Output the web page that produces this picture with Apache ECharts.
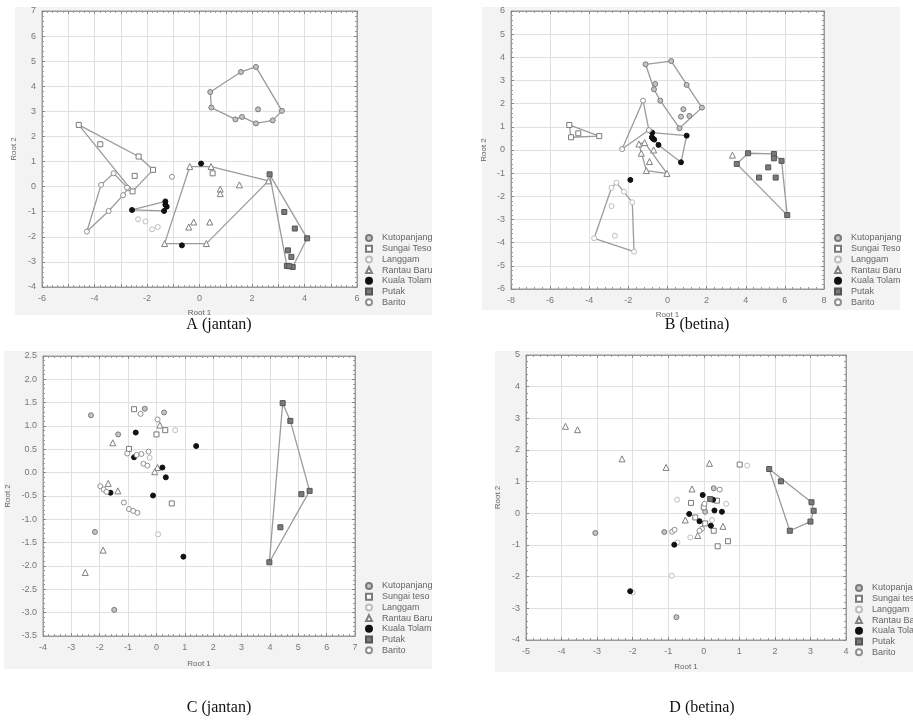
<!DOCTYPE html>
<html><head><meta charset="utf-8">
<script src="https://cdn.jsdelivr.net/npm/echarts@6/dist/echarts.min.js"></script>
<style>html,body{margin:0;padding:0;background:#fff}#c{width:913px;height:722px}</style>
</head><body><div id="c"></div>
<script>
// ---------- legend names ----------
const namesAB = ['Kutopanjang','Sungai Teso','Langgam','Rantau Baru','Kuala Tolam','Putak','Barito'];
const namesCD = ['Kutopanjang','Sungai teso','Langgam','Rantau Baru','Kuala Tolam','Putak','Barito'];
const captions = ['A (jantan)','B (betina)','C (jantan)','D (betina)'];

// ---------- Panel A (jantan) ----------
const A_kuto_hull = [[0.41,3.77],[1.58,4.57],[2.15,4.77],[3.14,3.02],[2.79,2.64],[2.15,2.52],[1.62,2.78],[1.37,2.68],[0.45,3.15]];
const A_kuto_pts = [[2.23,3.08]];
const A_teso_hull = [[-4.60,2.46],[-2.32,1.20],[-1.77,0.67],[-2.55,-0.19]];
const A_teso_pts = [[-3.78,1.69],[-2.47,0.43],[0.50,0.53]];
const A_lang_pts = [[-2.34,-1.30],[-2.06,-1.39],[-1.81,-1.70],[-1.59,-1.61]];
const A_rant_hull = [[-0.37,0.80],[0.44,0.80],[2.63,0.23],[0.26,-2.27],[-1.33,-2.27]];
const A_rant_pts = [[0.79,-0.10],[0.79,-0.28],[1.52,0.07],[-0.22,-1.41],[-0.41,-1.61],[0.39,-1.41]];
const A_kual_hull = [[-2.57,-0.93],[-1.30,-0.59],[-1.25,-0.80],[-1.35,-0.97]];
const A_kual_pts = [[0.06,0.92],[-0.67,-2.34],[-1.30,-0.72]];
const A_puta_hull = [[2.67,0.49],[4.10,-2.06],[3.55,-3.20],[3.33,-3.16]];
const A_puta_pts = [[3.23,-1.01],[3.63,-1.67],[3.37,-2.54],[3.50,-2.80],[3.42,-3.17]];
const A_bari_hull = [[-4.29,-1.79],[-3.75,0.07],[-3.27,0.53],[-2.72,-0.07],[-2.91,-0.34],[-3.46,-0.97]];
const A_bari_pts = [[-1.05,0.39],[-2.76,-0.04]];

// ---------- Panel B (betina) ----------
const B_kuto_hull = [[-1.12,3.70],[0.19,3.84],[1.76,1.83],[0.61,0.94],[-0.37,2.13],[-0.69,2.62]];
const B_kuto_pts = [[0.98,2.81],[0.81,1.76],[0.69,1.44],[1.12,1.47],[-0.63,2.85]];
const B_teso_hull = [[-5.02,1.08],[-3.49,0.60],[-4.93,0.55]];
const B_teso_pts = [[-4.56,0.72]];
const B_lang_hull = [[-2.61,-1.41],[-1.80,-2.26],[-1.71,-4.39],[-3.75,-3.81],[-2.86,-1.63]];
const B_lang_pts = [[-2.22,-1.80],[-2.86,-2.42],[-2.69,-3.70]];
const B_rant_hull = [[-1.46,0.26],[-1.17,0.32],[-0.03,-1.01],[-1.08,-0.89]];
const B_rant_pts = [[-0.92,-0.50],[-0.71,0.0],[-1.34,-0.14],[3.32,-0.22]];
const B_kual_hull = [[-0.78,0.75],[0.98,0.62],[0.69,-0.53],[-0.46,0.22],[-0.80,0.55]];
const B_kual_pts = [[-0.75,0.50],[-0.68,0.45],[-1.90,-1.29]];
const B_puta_hull = [[3.54,-0.60],[4.12,-0.14],[5.44,-0.17],[5.83,-0.47],[6.12,-2.81]];
const B_puta_pts = [[5.44,-0.36],[5.15,-0.75],[4.68,-1.19],[5.53,-1.19]];
const B_bari_hull = [[-2.32,0.04],[-1.25,2.13],[-0.95,0.86]];
const B_bari_pts = [];

// ---------- Panel C (jantan) ----------
const C_kuto_pts = [[-2.31,1.23],[0.27,1.29],[-1.35,0.82],[-2.17,-1.27],[-1.49,-2.94],[-0.41,1.37]];
const C_teso_pts = [[-0.79,1.36],[0.0,0.82],[0.31,0.91],[0.54,-0.66],[-0.97,0.51]];
const C_lang_pts = [[0.66,0.91],[0.06,-1.32],[-0.24,0.32]];
const C_rant_pts = [[0.12,1.02],[-1.54,0.64],[0.04,0.11],[-0.06,0.02],[-1.70,-0.23],[-1.36,-0.39],[-1.88,-1.66],[-2.51,-2.14]];
const C_kual_pts = [[-0.73,0.86],[1.40,0.57],[-0.79,0.33],[0.21,0.11],[0.33,-0.10],[-1.62,-0.43],[-0.12,-0.49],[0.95,-1.80]];
const C_puta_hull = [[4.45,1.49],[4.72,1.11],[5.40,-0.39],[3.98,-1.92]];
const C_puta_pts = [[5.11,-0.46],[4.37,-1.17]];
const C_bari_pts = [[-0.56,1.26],[0.04,1.14],[-1.03,0.41],[-0.70,0.38],[-0.53,0.40],[-0.28,0.45],[-0.46,0.19],[-0.32,0.15],[-1.98,-0.29],[-1.86,-0.36],[-1.76,-0.41],[-1.15,-0.64],[-0.97,-0.78],[-0.82,-0.82],[-0.67,-0.86]];

// ---------- Panel D (betina) ----------
const D_kuto_pts = [[-3.05,-0.62],[-1.11,-0.59],[-0.77,-3.28],[0.28,0.79],[0.04,0.05]];
const D_teso_pts = [[1.01,1.54],[-0.36,0.33],[0.37,0.40],[0.0,0.19],[-0.24,-0.13],[0.04,-0.32],[0.28,-0.55],[0.68,-0.88],[0.39,-1.04]];
const D_lang_pts = [[1.22,1.51],[-0.75,0.43],[0.63,0.30],[0.23,-0.21],[-0.38,-0.76],[-0.90,-1.97],[-2.0,-2.5],[-0.74,-0.92]];
const D_rant_pts = [[-3.89,2.75],[-3.55,2.64],[-2.30,1.72],[-1.06,1.45],[0.16,1.58],[-0.33,0.77],[-0.52,-0.21],[0.54,-0.41],[-0.17,-0.70]];
const D_kual_pts = [[-0.03,0.58],[0.30,0.09],[0.51,0.05],[-0.41,-0.02],[-0.12,-0.25],[0.20,-0.39],[-0.83,-0.99],[-2.07,-2.46],[0.26,0.43]];
const D_puta_hull = [[1.84,1.40],[3.03,0.35],[3.09,0.08],[3.00,-0.26],[2.42,-0.55]];
const D_puta_pts = [[2.17,1.01],[0.18,0.45]];
const D_bari_pts = [[0.45,0.75],[0.02,0.30],[-0.05,-0.49],[-0.12,-0.55],[-0.89,-0.58],[-0.82,-0.52]];

// ---------- styles ----------
const sty = [
  {symbol:'circle', size:5, fill:'#c4c4c4', border:'#7a7a7a'},   // Kutopanjang
  {symbol:'rect', size:5, fill:'#ffffff', border:'#7a7a7a'},     // Sungai Teso
  {symbol:'circle', size:5, fill:'#ffffff', border:'#bdbdbd'},   // Langgam
  {symbol:'triangle', size:6, fill:'#ffffff', border:'#808080'}, // Rantau Baru
  {symbol:'circle', size:5, fill:'#111111', border:'#111111'},   // Kuala Tolam
  {symbol:'rect', size:5, fill:'#7a7a7a', border:'#555555'},     // Putak
  {symbol:'circle', size:5, fill:'#ffffff', border:'#8f8f8f'}    // Barito
];

const panels = [
  {names:namesAB, groups:[[A_kuto_hull,A_kuto_pts],[A_teso_hull,A_teso_pts],[[],A_lang_pts],[A_rant_hull,A_rant_pts],[A_kual_hull,A_kual_pts],[A_puta_hull,A_puta_pts],[A_bari_hull,A_bari_pts]]},
  {names:namesAB, groups:[[B_kuto_hull,B_kuto_pts],[B_teso_hull,B_teso_pts],[B_lang_hull,B_lang_pts],[B_rant_hull,B_rant_pts],[B_kual_hull,B_kual_pts],[B_puta_hull,B_puta_pts],[B_bari_hull,B_bari_pts]]},
  {names:namesCD, groups:[[[],C_kuto_pts],[[],C_teso_pts],[[],C_lang_pts],[[],C_rant_pts],[[],C_kual_pts],[C_puta_hull,C_puta_pts],[[],C_bari_pts]]},
  {names:namesCD, groups:[[[],D_kuto_pts],[[],D_teso_pts],[[],D_lang_pts],[[],D_rant_pts],[[],D_kual_pts],[D_puta_hull,D_puta_pts],[[],D_bari_pts]]}
];

// layout
const gridsPx = [
  {left:42, top:11, width:315, height:276},
  {left:511, top:11, width:313, height:278},
  {left:43, top:356, width:312, height:280},
  {left:526, top:355, width:320, height:285}
];
const axX = [{min:-6,max:6,interval:1,even:true},{min:-8,max:8,interval:2},{min:-4,max:7,interval:1},{min:-5,max:4,interval:1}];
const axY = [{min:-4,max:7,interval:1},{min:-6,max:6,interval:1},{min:-3.5,max:2.5,interval:0.5,dec:1},{min:-4,max:5,interval:1}];
const bgRects = [[15,7,417,308],[482,7,418,303],[4,351,428,318],[495,351,418,321]];
const legendPos = [[360,228],[829,228],[360,576],[850,578]];
const nameGapX = [22,22,24,23], nameGapY = [24,23,31,24];
const capPos = [[219,325],[697,325],[219,708],[702,708]];

const font = 'Liberation Sans, Arial, sans-serif';
const grid = [], xAxis = [], yAxis = [], series = [], legend = [], graphic = [];

bgRects.forEach(r => graphic.push({type:'rect', shape:{x:r[0],y:r[1],width:r[2],height:r[3]}, style:{fill:'#f3f3f3'}, z:-10, silent:true}));
captions.forEach((t,i) => graphic.push({type:'text', x:capPos[i][0], y:capPos[i][1], style:{text:t, font:'16px "Liberation Serif", "Times New Roman", serif', fill:'#111', textAlign:'center', textVerticalAlign:'middle'}, z:5}));

panels.forEach((p, i) => {
  grid.push(Object.assign({show:true, backgroundColor:'#ffffff', borderColor:'#9a9a9a', borderWidth:1, containLabel:false}, gridsPx[i]));
  const common = (a) => ({
    type:'value', gridIndex:i, min:a.min, max:a.max, interval:a.interval,
    axisLine:{show:true, onZero:false, lineStyle:{color:'#9a9a9a'}},
    axisTick:{show:true, inside:true, length:3, lineStyle:{color:'#888'}},
    minorTick:{show:true, splitNumber:5, length:2, lineStyle:{color:'#999'}},
    splitLine:{show:true, lineStyle:{color:'#e0e0e0', width:1}}
  });
  const xa = common(axX[i]);
  Object.assign(xa, {position:'bottom', name:'Root 1', nameLocation:'middle', nameGap:nameGapX[i],
    nameTextStyle:{color:'#666', fontSize:8, fontFamily:font},
    axisLabel:{color:'#777', fontSize:9, fontFamily:font, margin:7,
      formatter: v => (axX[i].even && Math.round(v) % 2 !== 0) ? '' : String(v)}});
  const ya = common(axY[i]);
  Object.assign(ya, {position:'left', name:'Root 2', nameLocation:'middle', nameGap:nameGapY[i],
    nameTextStyle:{color:'#666', fontSize:8, fontFamily:font},
    axisLabel:{color:'#777', fontSize:9, fontFamily:font, margin:6,
      formatter: v => axY[i].dec ? v.toFixed(axY[i].dec) : String(v)}});
  xAxis.push(xa); yAxis.push(ya);
  const xt = common(axX[i]); Object.assign(xt, {position:'top', axisLabel:{show:false}, splitLine:{show:false}});
  const yr = common(axY[i]); Object.assign(yr, {position:'right', axisLabel:{show:false}, splitLine:{show:false}});
  xAxis.push(xt); yAxis.push(yr);

  const xi = i*2, yi = i*2;
  p.groups.forEach((g, k) => {
    const hull = g[0], pts = g[1], s = sty[k];
    if (hull.length) {
      series.push({type:'line', name:p.names[k]+' hull', xAxisIndex:xi, yAxisIndex:yi,
        data: hull.concat([hull[0]]), symbol:'none', silent:true, z:2,
        lineStyle:{color:'#9b9b9b', width:1.3}});
    }
    series.push({type:'scatter', name:p.names[k], xAxisIndex:xi, yAxisIndex:yi,
      data: hull.concat(pts), symbol:s.symbol, symbolSize:s.size, z:3,
      itemStyle:{color:s.fill, borderColor:s.border, borderWidth:1, opacity:1}});
  });
  legend.push({data:p.names, orient:'vertical', left:legendPos[i][0], top:legendPos[i][1],
    itemWidth:6, itemHeight:6, itemGap:0.7, selectedMode:false,
    textStyle:{color:'#666', fontSize:9, fontFamily:font, lineHeight:10, padding:[0,0,0,5]}});
});

const chart = echarts.init(document.getElementById('c'), null, {renderer:'canvas'});
chart.setOption({animation:false, backgroundColor:'#ffffff', grid, xAxis, yAxis, series, legend, graphic});
</script></body></html>
